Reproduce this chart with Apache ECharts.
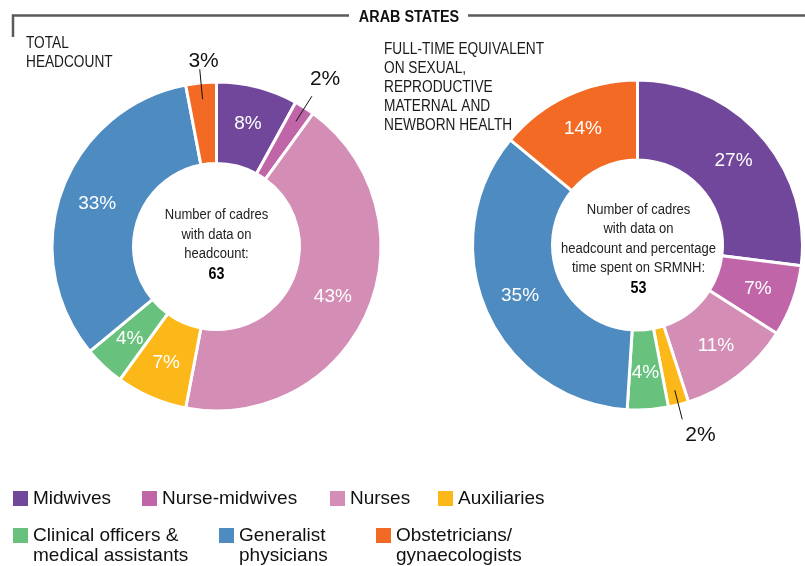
<!DOCTYPE html>
<html>
<head>
<meta charset="utf-8">
<script src="https://cdn.jsdelivr.net/npm/echarts@6/dist/echarts.min.js"></script>
<style>
  html, body { margin: 0; padding: 0; background: #fff; }
  #chart { width: 805px; height: 566px; }
</style>
</head>
<body>
<div id="chart"></div>
<script>
// cadre categories, in the order the slices run clockwise from 12 o'clock
const categories = [
  'Midwives',
  'Nurse-midwives',
  'Nurses',
  'Auxiliaries',
  'Clinical officers & medical assistants',
  'Generalist physicians',
  'Obstetricians/ gynaecologists'
];
// share of total headcount (%)
const headcountShare = [8, 2, 43, 7, 4, 33, 3];
// share of full-time equivalent on SRMNH (%)
const fteShare = [27, 7, 11, 2, 4, 35, 14];
// cadre counts shown in the donut holes
const headcountCadres = 63;
const fteCadres = 53;

const colors = ['#71479b', '#c066a8', '#d48db4', '#fbb818', '#69c17e', '#4e8bc0', '#f26a24'];
const legendLabels = [
  'Midwives', 'Nurse-midwives', 'Nurses', 'Auxiliaries',
  'Clinical officers &\nmedical assistants', 'Generalist\nphysicians', 'Obstetricians/\ngynaecologists'
];

const sans = '"Liberation Sans", Arial, sans-serif';
const narrow = 0.84; // squeeze factor to fake the condensed face

// legend layout: square left, row
const legendX = [13, 142, 330, 438, 13, 219, 376];
const legendRow = [0, 0, 0, 0, 1, 1, 1];

// small slices get an outside label: [distance to line, vertical shift (+ = down)]
const outsideNudge = {
  left: { 'Nurse-midwives': [-2, -17], 'Obstetricians/ gynaecologists': [-19, -8.5] },
  right: { 'Auxiliaries': [3, 16] }
};

const chart = echarts.init(document.getElementById('chart'));

function donut(center, radius, values) {
  return {
    type: 'pie',
    center: center,
    radius: radius,
    startAngle: 90,
    clockwise: true,
    avoidLabelOverlap: false,
    animation: false,
    silent: true,
    itemStyle: { borderColor: '#fff', borderWidth: 3 },
    label: {
      show: true,
      position: 'inside',
      formatter: '{c}%',
      color: '#fff',
      fontFamily: sans,
      fontSize: 19
    },
    labelLine: { show: false },
    data: values.map((v, i) => ({
      name: categories[i],
      value: v,
      itemStyle: { color: colors[i] },
      label: { show: v >= 4 }
    }))
  };
}

// invisible copy of the ring, only used to hang leader lines + labels on the small slices
function leaders(center, radius, values, nudge) {
  return {
    type: 'pie',
    center: center,
    radius: radius,
    startAngle: 90,
    clockwise: true,
    avoidLabelOverlap: false,
    animation: false,
    silent: true,
    z: 3,
    itemStyle: { color: 'rgba(0,0,0,0)', borderWidth: 0 },
    label: {
      show: false,
      position: 'outside',
      color: '#111',
      fontFamily: sans,
      fontSize: 21
    },
    labelLine: { show: false, length: 30, length2: 0, lineStyle: { color: '#111', width: 1 } },
    data: values.map((v, i) => {
      const n = nudge[categories[i]];
      const item = { name: categories[i], value: v };
      if (n) {
        // an empty line above/below pushes the visible line off the leader end
        const shift = n[1];
        item.label = {
          show: true,
          distanceToLabelLine: n[0],
          lineHeight: Math.abs(shift) * 2,
          formatter: shift < 0 ? '{c}%\n ' : ' \n{c}%'
        };
        item.labelLine = { show: true };
      }
      return item;
    })
  };
}

function condText(x, y, text, size, lineHeight) {
  return {
    type: 'text', x: x, y: y, scaleX: narrow, z: 10,
    style: { text: text, font: size + 'px ' + sans, fill: '#1a1a1a', lineHeight: lineHeight }
  };
}

const graphics = [
  // frame around the region heading
  { type: 'polyline', shape: { points: [[13, 37], [13, 15.5], [349, 15.5]] }, style: { stroke: '#5a5a5a', lineWidth: 2.5, fill: null } },
  { type: 'line', shape: { x1: 468, y1: 15.5, x2: 805, y2: 15.5 }, style: { stroke: '#5a5a5a', lineWidth: 2.5 } },
  {
    type: 'text', x: 409, y: 17.5, scaleX: 0.9,
    style: { text: 'ARAB STATES', font: 'bold 16px ' + sans, fill: '#111', align: 'center', verticalAlign: 'middle' }
  },
  condText(26, 34, 'TOTAL\nHEADCOUNT', 16.3, 19.3),
  condText(384, 39.5, 'FULL-TIME EQUIVALENT\nON SEXUAL,\nREPRODUCTIVE\nMATERNAL AND\nNEWBORN HEALTH', 16.3, 19.2),
  {
    type: 'text', x: 216.5, y: 245, scaleX: narrow, z: 10,
    style: {
      text: '{t|Number of cadres}\n{t|with data on}\n{t|headcount:}\n{b|' + headcountCadres + '}',
      align: 'center', verticalAlign: 'middle',
      rich: {
        t: { font: '15.5px ' + sans, fill: '#222', lineHeight: 19.3 },
        b: { font: 'bold 17px ' + sans, fill: '#000', lineHeight: 21 }
      }
    }
  },
  {
    type: 'text', x: 638.5, y: 249, scaleX: narrow, z: 10,
    style: {
      text: '{t|Number of cadres}\n{t|with data on}\n{t|headcount and percentage}\n{t|time spent on SRMNH:}\n{b|' + fteCadres + '}',
      align: 'center', verticalAlign: 'middle',
      rich: {
        t: { font: '15.5px ' + sans, fill: '#222', lineHeight: 19.5 },
        b: { font: 'bold 17px ' + sans, fill: '#000', lineHeight: 21 }
      }
    }
  }
];

legendLabels.forEach((label, i) => {
  const x = legendX[i];
  const top = legendRow[i] === 0 ? 491 : 528;
  graphics.push({ type: 'rect', shape: { x: x, y: top, width: 15, height: 15 }, style: { fill: colors[i] } });
  graphics.push({
    type: 'text', x: x + 20, y: top - 2.5,
    style: { text: label, font: '19px ' + sans, fill: '#111', lineHeight: 20, verticalAlign: 'top' }
  });
});

chart.setOption({
  backgroundColor: '#fff',
  animation: false,
  series: [
    donut([216.5, 246.5], [83, 164.5], headcountShare),
    donut([637.5, 245], [85, 165], fteShare),
    leaders([216.5, 246.5], [83, 148], headcountShare, outsideNudge.left),
    leaders([637.5, 245], [85, 150], fteShare, outsideNudge.right)
  ],
  graphic: graphics
});
</script>
</body>
</html>
